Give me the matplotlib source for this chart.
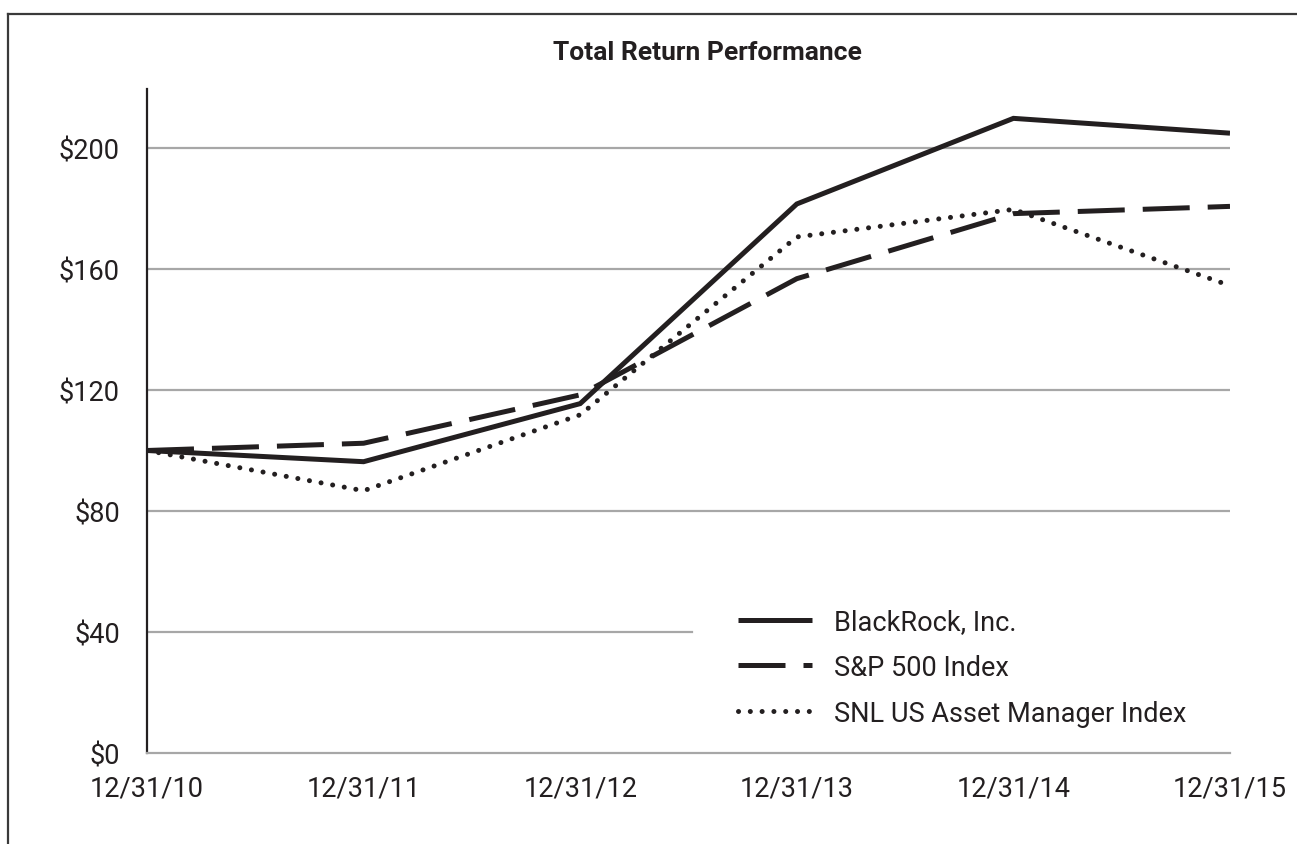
import matplotlib
matplotlib.use("Agg")
import matplotlib.pyplot as plt
from matplotlib.lines import Line2D

plt.rcParams['font.family'] = ['Roboto', 'DejaVu Sans']

# data (value of $100 invested 12/31/10)
dates = ['12/31/10', '12/31/11', '12/31/12', '12/31/13', '12/31/14', '12/31/15']
blackrock = [100, 96.3, 115.5, 181.5, 209.8, 204.9]
sp500 = [100, 102.4, 118.4, 156.8, 178.3, 180.7]
snl = [100, 86.7, 111.8, 170.6, 179.7, 154.5]
y_ticks = [0, 40, 80, 120, 160, 200]
y_labels = ['$0', '$40', '$80', '$120', '$160', '$200']

INK = '#231f20'
GRID = '#a7a7a7'
W, H = 1297, 845

fig = plt.figure(figsize=(W / 100, H / 100), dpi=100)
ax = fig.add_axes([147 / W, 1 - 754 / H, (1230 - 147) / W, (754 - 90) / H])

# outer frame (only left and top edges fall inside the picture)
fig.add_artist(Line2D([8 / W, 8 / W], [0, 1 - 15 / H], transform=fig.transFigure, color='#3a3a3a', lw=1.6))
fig.add_artist(Line2D([8 / W, 1.0], [1 - 15 / H, 1 - 15 / H], transform=fig.transFigure, color='#3a3a3a', lw=1.6))

fig.text(707 / W, 1 - 53 / H, 'Total Return Performance', ha='center', va='center',
         fontsize=19, fontweight='bold', color=INK)

x = list(range(len(dates)))

# gridlines; the $40 line stops short of the legend
for v in y_ticks[1:]:
    ax.axhline(v, xmin=0, xmax=0.503 if v == 40 else 1, color=GRID, lw=1.6, zorder=1)

lw = 3.6
ax.plot(x, blackrock, color=INK, lw=lw, solid_capstyle='butt', solid_joinstyle='miter',
        label='BlackRock, Inc.', zorder=3)
ax.plot(x, sp500, color=INK, lw=lw, linestyle=(0, (9.4, 3.6)), dash_capstyle='butt',
        label='S&P 500 Index', zorder=3)
ax.plot(x, snl, color=INK, lw=lw, linestyle=(0, (0.01, 2.35)), dash_capstyle='round',
        label='SNL US Asset Manager Index', zorder=3)

ax.set_xlim(0, 5)
ax.set_ylim(0, (754 - 90) / 3.025)
ax.set_xticks(x)
ax.set_xticklabels(dates)
ax.set_yticks(y_ticks)
ax.set_yticklabels(y_labels)
ax.tick_params(axis='both', length=0, labelsize=19.5, colors=INK)
ax.tick_params(axis='y', pad=19.5)
ax.tick_params(axis='x', pad=15.5)

for side in ['top', 'right']:
    ax.spines[side].set_visible(False)
ax.spines['left'].set_color(INK)
ax.spines['left'].set_linewidth(1.6)
ax.spines['bottom'].set_color(GRID)
ax.spines['bottom'].set_linewidth(1.6)

ax.legend(loc='upper left', bbox_to_anchor=(738 / W, 1 - 609 / H), bbox_transform=fig.transFigure,
          frameon=False, fontsize=19.5, handlelength=2.75, handletextpad=0.8,
          labelspacing=0.70, borderpad=0, borderaxespad=0, labelcolor=INK)

fig.savefig('out.png', dpi=100)
